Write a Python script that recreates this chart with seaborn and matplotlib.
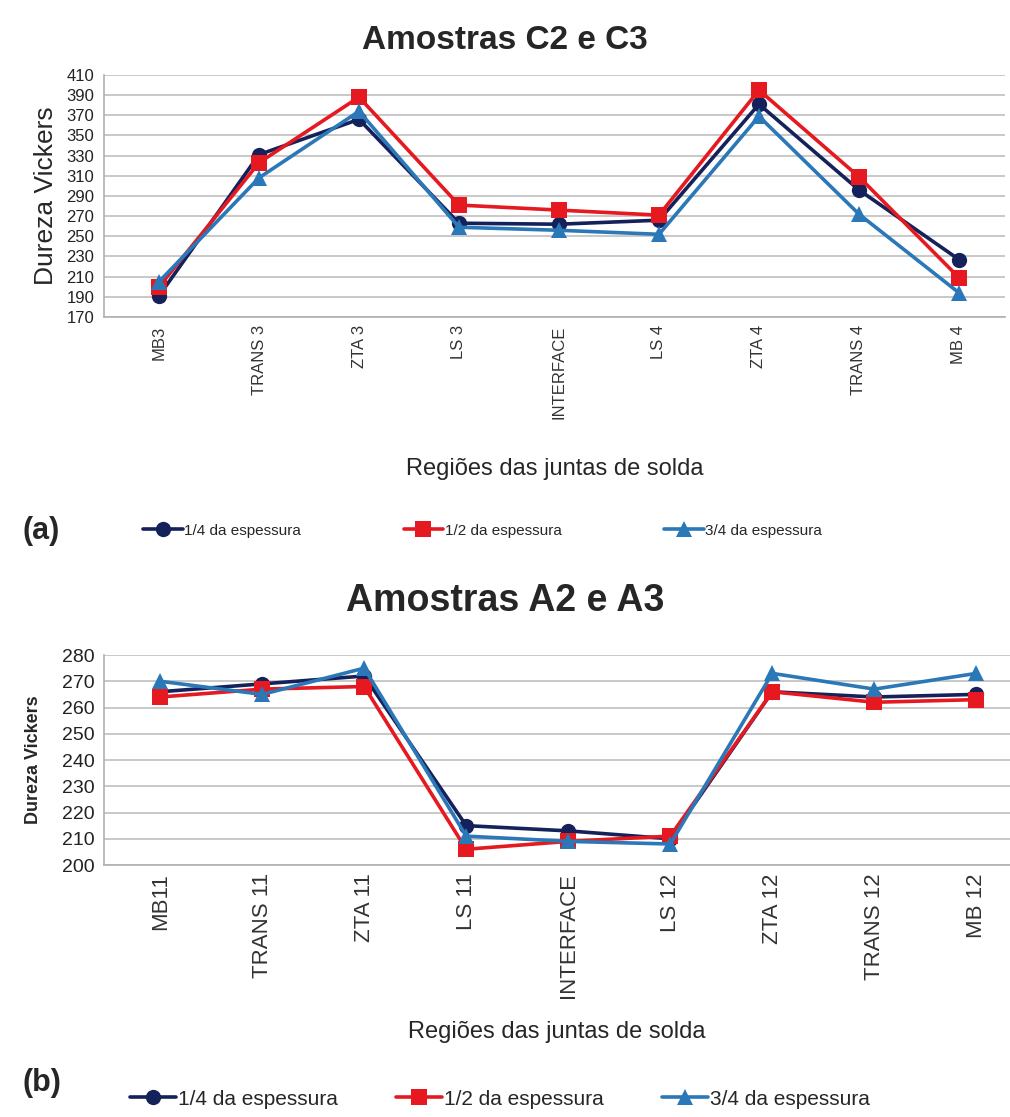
import numpy as np
import pandas as pd
import seaborn as sns
import matplotlib.pyplot as plt

regioes_a = ['MB3', 'TRANS 3', 'ZTA 3', 'LS 3', 'INTERFACE', 'LS 4', 'ZTA 4', 'TRANS 4', 'MB 4']
quarto_a = [191, 331, 366, 263, 262, 266, 381, 296, 227]
meio_a = [200, 323, 388, 281, 276, 271, 395, 309, 209]
tres_quartos_a = [205, 308, 374, 259, 256, 252, 369, 272, 194]

regioes_b = ['MB11', 'TRANS 11', 'ZTA 11', 'LS 11', 'INTERFACE', 'LS 12', 'ZTA 12', 'TRANS 12', 'MB 12']
quarto_b = [266, 269, 272, 215, 213, 210, 266, 264, 265]
meio_b = [264, 267, 268, 206, 209, 211, 266, 262, 263]
tres_quartos_b = [270, 265, 275, 211, 209, 208, 273, 267, 273]

series = ['1/4 da espessura', '1/2 da espessura', '3/4 da espessura']
cores = ['#14215a', '#e5191f', '#2b78b8']
marcadores = ['o', 's', '^']

sns.set_theme(style='white')
plt.rcParams['font.family'] = ['Liberation Sans', 'DejaVu Sans']


def montar_df(regioes, valores):
    linhas = []
    for serie, vals in zip(series, valores):
        for i, (reg, v) in enumerate(zip(regioes, vals)):
            linhas.append({'Regiao': reg, 'pos': i, 'Dureza': v, 'Serie': serie})
    return pd.DataFrame(linhas)


def desenhar(ax, df, regioes, ylim, passo, tam_y, tam_x):
    sns.lineplot(data=df, x='pos', y='Dureza', hue='Serie', style='Serie',
                 hue_order=series, style_order=series, palette=cores,
                 markers=marcadores, dashes=False, sort=False,
                 markersize=11, linewidth=2.6, markeredgewidth=0, ax=ax)
    ax.set_ylim(*ylim)
    ax.set_yticks(np.arange(ylim[0], ylim[1] + 1, passo))
    ax.set_xticks(range(len(regioes)))
    ax.set_xticks(np.arange(-0.5, len(regioes), 1), minor=True)
    ax.set_xticklabels(regioes, rotation=90, fontsize=tam_x, color='#333333')
    for t in ax.get_yticklabels():
        t.set_fontsize(tam_y)
        t.set_color('#222222')
    ax.grid(axis='y', color='#c4c4c4', linewidth=1.3)
    ax.tick_params(axis='x', which='major', length=0, pad=6)
    ax.tick_params(axis='x', which='minor', length=6, color='#b0b0b0', width=1)
    ax.tick_params(axis='y', length=5, color='#b0b0b0', width=1, pad=2)
    for lado in ['top', 'right']:
        ax.spines[lado].set_visible(False)
    for lado in ['left', 'bottom']:
        ax.spines[lado].set_color('#b0b0b0')
        ax.spines[lado].set_linewidth(1.2)


fig = plt.figure(figsize=(10.1, 11.17), dpi=100)

# (a)
ax1 = fig.add_axes([0.103, 0.7162, 0.892, 0.2167])
desenhar(ax1, montar_df(regioes_a, [quarto_a, meio_a, tres_quartos_a]), regioes_a,
         (170, 410), 20, 12, 12)
ax1.set_xlim(-0.55, 8.46)
ax1.set_xlabel('Regiões das juntas de solda', fontsize=17, labelpad=28)
ax1.set_ylabel('Dureza Vickers', fontsize=19, labelpad=6)
fig.text(0.5, 0.964, 'Amostras C2 e C3', ha='center', va='center', fontsize=24, fontweight='bold')
fig.text(0.022, 0.525, '(a)', ha='left', va='center', fontsize=22, fontweight='bold')
sns.move_legend(ax1, 'center left', bbox_to_anchor=(0.128, 0.525), bbox_transform=fig.transFigure,
                ncol=3, frameon=False, title=None, handlelength=2.6,
                handletextpad=0.1, columnspacing=6.7, prop={'size': 11})

# (b)
ax2 = fig.add_axes([0.103, 0.2256, 0.897, 0.188])
desenhar(ax2, montar_df(regioes_b, [quarto_b, meio_b, tres_quartos_b]), regioes_b,
         (200, 280), 10, 14, 16)
ax2.set_xlim(-0.55, 8.33)
ax2.set_xlabel('Regiões das juntas de solda', fontsize=17, labelpad=16)
ax2.set_ylabel('Dureza Vickers', fontsize=13, fontweight='bold', labelpad=14)
fig.text(0.5, 0.462, 'Amostras A2 e A3', ha='center', va='center', fontsize=27, fontweight='bold')
fig.text(0.022, 0.03, '(b)', ha='left', va='center', fontsize=22, fontweight='bold')
sns.move_legend(ax2, 'center left', bbox_to_anchor=(0.11, 0.016), bbox_transform=fig.transFigure,
                ncol=3, frameon=False, title=None, handlelength=2.2,
                handletextpad=0.1, columnspacing=2.8, prop={'size': 15})

fig.savefig('out.png', dpi=100)
